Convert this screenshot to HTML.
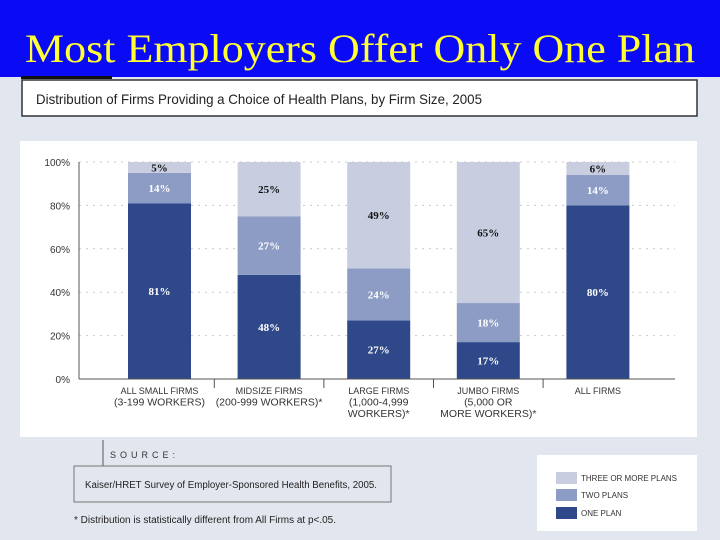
<!DOCTYPE html>
<html><head><meta charset="utf-8"><style>
html,body{margin:0;padding:0;width:720px;height:540px;overflow:hidden;background:#e2e6ee;}
svg{display:block;font-family:"Liberation Sans",sans-serif;}
</style></head><body>
<svg width="720" height="540" viewBox="0 0 720 540">
<rect x="0" y="0" width="720" height="540" fill="#e2e6ee"/>
<rect x="0" y="0" width="720" height="77" fill="#0a0af5"/>
<text x="25" y="62" font-family="Liberation Serif,serif" font-size="40" fill="#ffff33" textLength="670" lengthAdjust="spacingAndGlyphs">Most Employers Offer Only One Plan</text>
<rect x="21" y="76" width="91" height="3" fill="#111"/>
<rect x="22" y="80" width="675" height="36" fill="#fff" stroke="#333" stroke-width="1.5"/>
<text x="36" y="104" font-size="14" fill="#222" textLength="446" lengthAdjust="spacingAndGlyphs">Distribution of Firms Providing a Choice of Health Plans, by Firm Size, 2005</text>
<rect x="20" y="141" width="677" height="296" fill="#fff"/>
<g id="grid"></g>
<g id="bars"></g>
<g id="axis"></g>
<g>
<line x1="103" y1="440" x2="103" y2="482" stroke="#555" stroke-width="1"/>
<text x="110" y="458" font-size="9" fill="#333" letter-spacing="4">SOURCE:</text>
<rect x="74" y="466" width="317" height="36" fill="#e2e6ee" stroke="#777" stroke-width="1"/>
<text x="85" y="488" font-size="10" fill="#222" textLength="292" lengthAdjust="spacingAndGlyphs">Kaiser/HRET Survey of Employer-Sponsored Health Benefits, 2005.</text>
<text x="74" y="523" font-size="10" fill="#222" textLength="262" lengthAdjust="spacingAndGlyphs">* Distribution is statistically different from All Firms at p&lt;.05.</text>
</g>
<g>
<rect x="537" y="455" width="160" height="76" fill="#fff"/>
<rect x="556" y="472" width="21" height="12" fill="#c8cee0"/>
<text x="581" y="481" font-size="8" fill="#333">THREE OR MORE PLANS</text>
<rect x="556" y="489" width="21" height="12" fill="#8d9cc4"/>
<text x="581" y="498" font-size="8" fill="#333">TWO PLANS</text>
<rect x="556" y="507" width="21" height="12" fill="#2f4889"/>
<text x="581" y="516" font-size="8" fill="#333">ONE PLAN</text>
</g>
</svg>
<script>
const categories=[["ALL SMALL FIRMS","(3-199 WORKERS)"],["MIDSIZE FIRMS","(200-999 WORKERS)*"],["LARGE FIRMS","(1,000-4,999","WORKERS)*"],["JUMBO FIRMS","(5,000 OR","MORE WORKERS)*"],["ALL FIRMS"]];
const onePlan=[81,48,27,17,80];
const twoPlans=[14,27,24,18,14];
const threePlus=[5,25,49,65,6];
const yTicks=[0,20,40,60,80,100];
const NS="http://www.w3.org/2000/svg";
const x0=79,x1=675,yBase=379,yTop=162;
function yScale(v){return yBase-(yBase-yTop)*v/100;}
const step=109.6,barW=63,firstLeft=128;
function xScale(i){return firstLeft+i*step;}
function mk(tag,attrs,parent){const e=document.createElementNS(NS,tag);for(const k in attrs)e.setAttribute(k,attrs[k]);parent.appendChild(e);return e;}
const grid=document.getElementById('grid'),bars=document.getElementById('bars'),axis=document.getElementById('axis');
yTicks.forEach(t=>{
  if(t>0){const l=mk('line',{x1:x0,x2:x1,y1:yScale(t),y2:yScale(t),stroke:'#c8c8c8','stroke-width':1,'stroke-dasharray':'2,5'},grid);
  
  }
  const tx=mk('text',{x:70,y:yScale(t)+4,'text-anchor':'end','font-size':10,fill:'#333'},axis);
  tx.textContent=t+'%';
  
  
});
const colors=['#2f4889','#8d9cc4','#c8cee0'];
const txtCol=['#fff','#fff','#111'];
const series=[onePlan,twoPlans,threePlus];
const sname=['one-plan','two-plans','three-plus'];
categories.forEach((c,i)=>{
  let cum=0;
  series.forEach((s,k)=>{
    const v=s[i];const ya=yScale(cum+v),yb=yScale(cum);
    const r=mk('rect',{x:xScale(i),y:ya,width:barW,height:yb-ya,fill:colors[k]},bars);
    
    
    const lbl=mk('text',{x:xScale(i)+barW/2,y:(ya+yb)/2+4,'text-anchor':'middle','font-size':11,'font-weight':'bold','font-family':'Liberation Serif,serif',fill:txtCol[k]},bars);
    lbl.textContent=v+'%';
    
    
    cum+=v;
  });
  c.forEach((line,j)=>{
    const t=mk('text',{x:xScale(i)+barW/2,y:394+j*11.5,'text-anchor':'middle','font-size':j==0?9:10.5,fill:'#333'},axis);
    t.textContent=line;
    
    
  });
  if(i>0){const s=mk('line',{x1:xScale(i)-(step-barW)/2,x2:xScale(i)-(step-barW)/2,y1:yBase,y2:yBase+9,stroke:'#555'},axis);
  
  }
});
const ya=mk('line',{x1:x0,x2:x0,y1:yTop,y2:yBase,stroke:'#555'},axis);


const xa=mk('line',{x1:x0,x2:x1,y1:yBase,y2:yBase,stroke:'#555'},axis);


</script>
</body></html>
